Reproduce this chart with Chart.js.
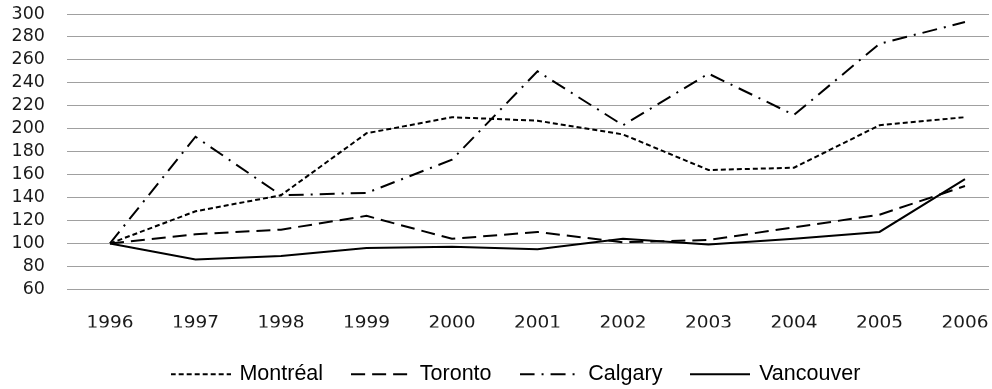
<!DOCTYPE html>
<html>
<head>
<meta charset="utf-8">
<script src="https://cdn.jsdelivr.net/npm/chart.js@4"></script>
<style>
  html, body { margin: 0; padding: 0; background: #fff; }
  #wrap { width: 992px; height: 389px; position: relative; }
</style>
</head>
<body>
<div id="wrap"><canvas id="c" width="992" height="389"></canvas></div>
<script>
const years = [1996, 1997, 1998, 1999, 2000, 2001, 2002, 2003, 2004, 2005, 2006];
const yTicks = [60, 80, 100, 120, 140, 160, 180, 200, 220, 240, 260, 280, 300];
const seriesNames = ['Montréal', 'Toronto', 'Calgary', 'Vancouver'];
const montreal  = [100, 128, 142, 196, 210, 207, 195, 164, 166, 203, 210];
const toronto   = [100, 108, 112, 124, 104, 110, 101, 103, 114, 125, 150];
const calgary   = [100, 193, 142, 144, 173, 250, 203, 248, 212, 274, 293];
const vancouver = [100,  86,  89,  96,  97,  95, 104,  99, 104, 110, 156];
const dashes = [[5, 3], [14, 7], [15, 7, 2, 7], []];

const toPts = arr => years.map((yr, i) => ({ x: yr, y: arr[i] }));

// legend symbol images (dashed line samples)
function sample(dash) {
  const c = document.createElement('canvas');
  c.width = 60; c.height = 6;
  const g = c.getContext('2d');
  g.strokeStyle = '#000'; g.lineWidth = 2; g.setLineDash(dash);
  g.beginPath(); g.moveTo(0, 3); g.lineTo(60, 3); g.stroke();
  return c;
}
const samples = dashes.map(sample);

const legendShift = {
  id: 'legendShift',
  afterLayout(chart) {
    const l = chart.legend;
    if (!l) return;
    const dx = 22, dy = 6;
    l.left += dx; l.right += dx; l.top += dy; l.bottom += dy;
  }
};

const base = { borderColor: '#000', backgroundColor: '#000', borderWidth: 2, pointRadius: 0, pointHoverRadius: 0, tension: 0, fill: false };
const seriesData = [montreal, toronto, calgary, vancouver];

new Chart(document.getElementById('c'), {
  type: 'line',
  data: {
    datasets: seriesData.map((arr, i) => Object.assign({}, base, {
      label: seriesNames[i], data: toPts(arr), borderDash: dashes[i]
    }))
  },
  options: {
    responsive: false,
    animation: false,
    layout: { padding: { top: 14, right: 3, bottom: 0, left: 0 } },
    plugins: {
      legend: {
        position: 'bottom',
        labels: {
          usePointStyle: true,
          pointStyleWidth: 56,
          padding: 30,
          color: '#000',
          font: { family: '"Liberation Sans", Arial, sans-serif', size: 21.5 },
          generateLabels: chart => Chart.defaults.plugins.legend.labels.generateLabels(chart)
            .map((it, i) => Object.assign(it, { pointStyle: samples[i] }))
        }
      },
      tooltip: { enabled: false }
    },
    scales: {
      x: {
        type: 'linear',
        min: 1995.497,
        max: 2006.281,
        grid: { display: false, drawTicks: false },
        border: { display: false },
        afterBuildTicks: axis => { axis.ticks = years.map(v => ({ value: v })); },
        afterFit: s => { s.height = 38.2; s.paddingLeft = 0; s.paddingRight = 0; },
        ticks: {
          padding: 23,
          color: '#1a1a1a',
          font: { family: '"DejaVu Sans", Verdana, sans-serif', size: 18.5 },
          maxRotation: 0,
          autoSkip: false,
          callback: v => String(v)
        }
      },
      y: {
        min: 60,
        max: 300,
        grid: { color: '#a0a0a0', lineWidth: 1, drawTicks: false },
        border: { display: false },
        afterBuildTicks: axis => { axis.ticks = yTicks.map(v => ({ value: v })); },
        afterFit: s => { s.width = 67; s.paddingTop = 0; s.paddingBottom = 0; },
        ticks: {
          padding: 22,
          autoSkip: false,
          color: '#1a1a1a',
          font: { family: '"DejaVu Sans", Verdana, sans-serif', size: 17.5 },
          callback: v => String(v)
        }
      }
    }
  },
  plugins: [legendShift]
});
</script>
</body>
</html>
